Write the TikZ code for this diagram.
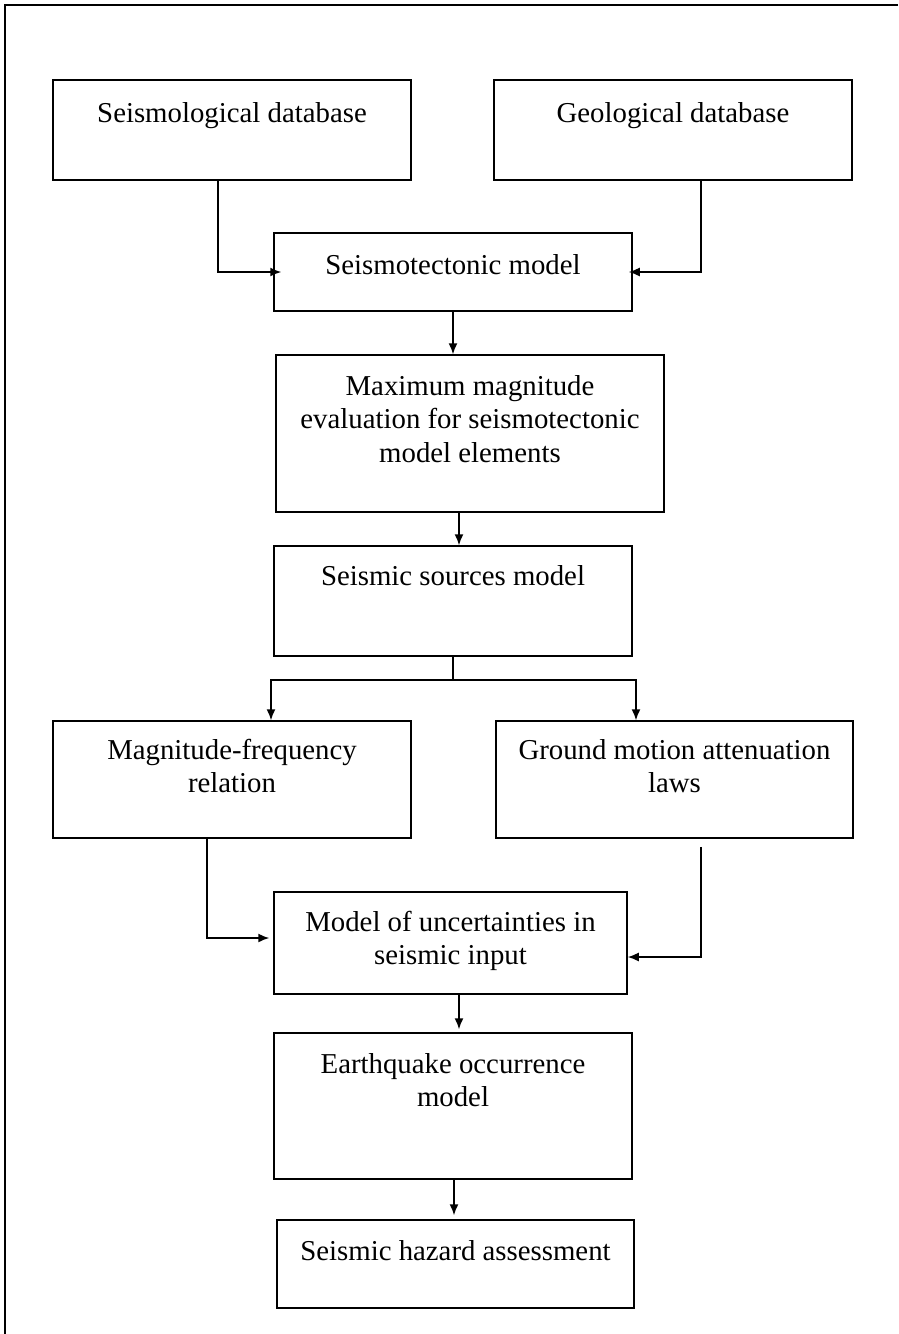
\documentclass[tikz,border=0pt]{standalone}
\usepackage{fontspec}
\setmainfont{Liberation Serif}
\usetikzlibrary{arrows.meta,calc}
\begin{document}
\begin{tikzpicture}[x=1pt,y=-1pt,
  box/.style={draw, line width=1.5pt, inner sep=0pt, rectangle},
  txt/.style={anchor=north, inner sep=0pt, align=center, font=\fontsize{28.8}{33.5}\selectfont},
  arr/.style={line width=1.5pt, -{Latex[length=11pt,width=9pt]}},
  ln/.style={line width=1.5pt},
  frame/.style={line width=1.7pt}]
\useasboundingbox (0,0) rectangle (898,1334);
\draw[frame] (898,5) -- (5,5) -- (5,1334);

\node[box, minimum width=358pt, minimum height=100pt] (b1) at (232,130) {};
\node[box, minimum width=358pt, minimum height=100pt] (b2) at (673,130) {};
\node[box, minimum width=358pt, minimum height=78pt] (b3) at (453,272) {};
\node[box, minimum width=388pt, minimum height=157pt] (b4) at (470,433.5) {};
\node[box, minimum width=358pt, minimum height=110pt] (b5) at (453,601) {};
\node[box, minimum width=358pt, minimum height=117pt] (b6) at (232,779.5) {};
\node[box, minimum width=357pt, minimum height=117pt] (b7) at (674.5,779.5) {};
\node[box, minimum width=353pt, minimum height=102pt] (b8) at (450.5,943) {};
\node[box, minimum width=358pt, minimum height=146pt] (b9) at (453,1106) {};
\node[box, minimum width=357pt, minimum height=88pt] (b10) at (455.5,1264) {};

\node[txt] (t1) at (232,98.5) {\strut Seismological database};
\node[txt] (t2) at (673,98.5) {\strut Geological database};
\node[txt] (t3) at (453,250.5) {\strut Seismotectonic model};
\node[txt] (t4) at (470,371.5) {\strut Maximum magnitude\\evaluation for seismotectonic\\model elements};
\node[txt] (t5) at (453,561.5) {\strut Seismic sources model};
\node[txt] (t6) at (232,735.5) {\strut Magnitude-frequency\\relation};
\node[txt] (t7) at (674.5,735.5) {\strut Ground motion attenuation\\laws};
\node[txt] (t8) at (450.5,907.5) {\strut Model of uncertainties in\\seismic input};
\node[txt] (t9) at (453,1049.5) {\strut Earthquake occurrence\\model};
\node[txt] (t10) at (455.5,1236.5) {\strut Seismic hazard assessment};

\draw[arr, shorten >=-8pt] ($(b1.south)+(-14,0)$) |- (b3.west);
\draw[arr, shorten >=-4pt] ($(b2.south)+(28,0)$) |- (b3.east);
\draw[arr] (b3.south) -- (b3.south |- b4.north);
\draw[arr] ($(b4.south)+(-11,0)$) -- ($(b5.north)+(6,0)$);
\coordinate (j) at ($(b5.south)+(0,23)$);
\draw[ln] (b5.south) -- (j);
\draw[arr] (j) -| ($(b6.north)+(39,0)$);
\draw[arr] (j) -| ($(b7.north)+(-38.5,0)$);
\draw[arr, shorten >=4pt] ($(b6.south)+(-25,0)$) |- ($(b8.west)+(0,-5)$);
\coordinate (g) at ($(b7.south)+(26.5,8)$);
\draw[arr] (g) |- ($(b8.east)+(0,14)$);
\draw[arr, shorten >=3pt] ($(b8.south)+(8.5,0)$) -- ($(b9.north)+(6,0)$);
\draw[arr, shorten >=4pt] ($(b9.south)+(1,0)$) -- ($(b10.north)+(-1.5,0)$);
\end{tikzpicture}
\end{document}
